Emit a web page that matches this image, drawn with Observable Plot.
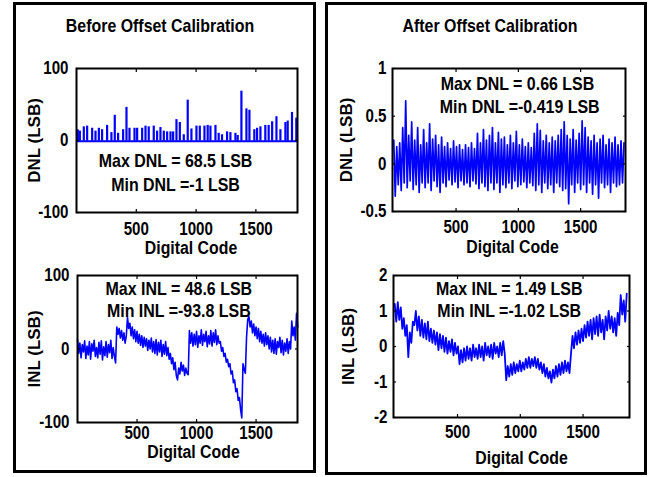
<!DOCTYPE html>
<html><head><meta charset="utf-8">
<script src="https://cdn.jsdelivr.net/npm/d3@7"></script>
<script src="https://cdn.jsdelivr.net/npm/@observablehq/plot@0.6"></script>
<style>
html,body{margin:0;padding:0;background:#fff;}
#page{position:relative;width:657px;height:477px;overflow:hidden;background:#fff;font-family:"Liberation Sans",Arial,Helvetica,sans-serif;font-weight:bold;color:#000;}
.layer{position:absolute;left:0;top:0;}
.layer svg{overflow:visible;display:block;}
.box{position:absolute;box-sizing:border-box;border:3px solid #000;z-index:5;pointer-events:none;}
.title{position:absolute;font-size:18.5px;line-height:1;white-space:nowrap;transform:translateX(-50%) scaleX(0.86);z-index:6;}
</style></head>
<body><div id="page"></div>
<script>
// ---------------- data ----------------
const xTicks = [500, 1000, 1500];

// Before offset calibration: DNL spikes (code, LSB); other codes sit at the floor value
const dnlBeforeCodes = [11,28,61,89,131,159,187,214,256,292,320,348,390,418,443,485,507,549,577,604,646,674,702,730,758,786,808,836,864,897,930,961,1003,1031,1070,1097,1120,1162,1189,1217,1259,1287,1329,1348,1379,1421,1446,1487,1510,1538,1579,1607,1636,1672,1705,1747,1766,1802,1838];
const dnlBeforeValues = [14.7,13,19,20,17,13,17,15,21,11,35,10,15,46,17,17,17,17,20,19,20,13,18,13,12,12,12,29,25,8,56,16,20,20,20,21,20,21,10,8,12,11,10,7,68.5,44,42,15,17,19,21,21,26,33,15,25,27,39,31];
const dnlBeforeFloor = -1;

// Before offset calibration: INL, one reading every 10 codes
const inlBeforeStep = 10;
const inlBefore = [
  13,-6,8,-12,6,-4,11,-13,4,-8,
  10,-14,7,-3,12,-10,2,-12,9,-7,
  11,-15,3,-9,10,-11,6,-5,12,-13,
  2,-10,-19,30,20,28,15,25,12,22,
  8,18,43,28,35,18,30,14,26,10,
  24,8,20,5,18,2,16,4,14,-2,
  12,0,15,-4,10,-6,13,-8,9,-4,
  12,-10,6,-7,10,-9,2,-14,-6,-20,
  -12,-28,-18,-36,-42,-26,-34,-18,-30,-22,
  -36,-26,-33,-35,25,8,22,4,20,6,
  24,2,18,8,26,5,20,10,24,3,
  18,7,25,4,22,9,26,6,18,8,
  10,-3,2,-10,-6,-18,-14,-24,-20,-34,
  -30,-46,-42,-58,-54,-70,-66,-82,-93.8,-20,
  -28,-33,16,40,44,30,38,22,34,18,
  30,14,28,10,24,8,20,4,22,6,
  18,0,16,-4,12,-6,14,-7,10,2,
  16,-5,12,-8,8,-3,14,-6,10,0,
  38,18,30,12,48.6,30
];

// After offset calibration: DNL, one reading every 12 codes
const dnlAfterStep = 12;
const dnlAfter = [
  0.25,-0.34,0.18,-0.22,0.22,-0.28,0.38,-0.2,0.66,-0.25,
  0.3,-0.18,0.44,-0.27,0.25,-0.22,0.38,-0.3,0.2,-0.2,
  0.36,-0.25,0.22,-0.2,0.42,-0.28,0.26,-0.18,0.3,-0.24,
  0.2,-0.3,0.28,-0.2,0.18,-0.24,0.22,-0.17,0.16,-0.22,
  0.24,-0.19,0.18,-0.25,0.2,-0.18,0.15,-0.22,0.2,-0.2,
  0.17,-0.24,0.22,-0.18,0.16,-0.21,0.32,-0.26,0.22,-0.2,
  0.36,-0.24,0.25,-0.28,0.3,-0.2,0.38,-0.27,0.22,-0.2,
  0.33,-0.3,0.26,-0.22,0.28,-0.25,0.2,-0.2,0.3,-0.26,
  0.22,-0.18,0.34,-0.24,0.2,-0.22,0.26,-0.19,0.18,-0.25,
  0.22,-0.2,0.17,-0.23,0.32,-0.28,0.42,-0.22,0.35,-0.3,
  0.24,-0.2,0.3,-0.26,0.22,-0.22,0.28,-0.3,0.24,-0.2,
  0.3,-0.24,0.36,-0.28,0.44,-0.26,0.3,-0.419,0.26,-0.22,
  0.36,-0.3,0.25,-0.2,0.32,-0.27,0.45,-0.22,0.38,-0.3,
  0.28,-0.2,0.24,-0.32,0.3,-0.22,0.22,-0.36,0.26,-0.2,
  0.3,-0.25,0.2,-0.22,0.26,-0.3,0.22,-0.2,0.28,-0.24,
  0.2,-0.22,0.24,-0.2,0.22
];

// After offset calibration: INL, one reading every 12 codes
const inlAfterStep = 12;
const inlAfter = [
  1.2,0.7,1.25,0.75,1.1,0.5,0.8,0.3,0.6,-0.3,
  0.4,0.1,0.7,0.6,1.0,0.45,0.85,0.3,0.75,0.25,
  0.65,0.2,0.7,0.15,0.5,0.1,0.45,0.05,0.4,-0.1,
  0.35,-0.05,0.3,-0.15,0.25,-0.2,0.15,-0.15,0.2,-0.25,
  0.1,-0.2,0.0,-0.5,-0.1,-0.45,-0.05,-0.4,0.0,-0.35,
  -0.05,-0.4,0.05,-0.3,-0.05,-0.35,0.05,-0.3,0.0,-0.4,
  0.1,-0.25,0.0,-0.3,0.05,-0.35,0.1,-0.2,0.0,-0.3,
  0.1,-0.25,0.15,-0.2,-0.95,-0.55,-0.85,-0.5,-0.8,-0.45,
  -0.75,-0.5,-0.7,-0.4,-0.7,-0.45,-0.65,-0.35,-0.6,-0.3,
  -0.6,-0.35,-0.55,-0.3,-0.6,-0.35,-0.65,-0.45,-0.75,-0.5,
  -0.85,-0.6,-0.9,-0.7,-1.02,-0.65,-0.9,-0.55,-0.85,-0.5,
  -0.8,-0.45,-0.75,-0.4,-0.7,-0.45,-0.75,-0.2,0.3,-0.05,
  0.4,0.05,0.45,0.1,0.5,0.15,0.6,0.25,0.7,0.3,
  0.75,0.2,0.8,0.35,0.85,0.3,0.9,0.4,0.75,0.2,
  0.85,0.45,1.0,0.5,0.85,0.4,0.8,0.3,0.95,0.6,
  1.45,0.9,1.3,0.7,1.49
];

const yTicksDnlBefore = [-100, 0, 100];
const yTicksInlBefore = [-100, 0, 100];
const yTicksDnlAfter = [-0.5, 0, 0.5, 1];
const yTicksInlAfter = [-2, -1, 0, 1, 2];

const titles = ["Before Offset  Calibration", "After Offset  Calibration"];
const xLabel = "Digital Code";
const notesDnlBefore = ["Max DNL = 68.5 LSB", "Min DNL =-1 LSB"];
const notesInlBefore = ["Max INL = 48.6 LSB", "Min INL =-93.8 LSB"];
const notesDnlAfter = ["Max DNL = 0.66 LSB", "Min DNL =-0.419 LSB"];
const notesInlAfter = ["Max INL = 1.49 LSB", "Min INL =-1.02 LSB"];

// ---------------- layout / style ----------------
const W = 657, H = 477;
const BLUE = "#0000ff";
const FONT = '"Liberation Sans", Arial, Helvetica, sans-serif';
const CONDENSE = {tick: 0.84, annot: 0.84, xlab: 0.88};

const panels = [
  {frame: {l: 76, r: 297, t: 68, b: 212}, xDomain: [0, 1848], yDomain: [-100, 100], yTicks: yTicksDnlBefore,
   yLabel: "DNL (LSB)", yLabelDx: -41.5, xLabelDx: 4, xLabelDy: 36, xPad: 10, yPad: 8,
   notes: notesDnlBefore, noteX: [828, 828], noteY: [-29, -61],
   marks: () => [
     Plot.ruleY([dnlBeforeFloor], {stroke: BLUE, strokeWidth: 2}),
     Plot.ruleX(dnlBeforeCodes, {x: d => d, y1: dnlBeforeFloor, y2: (d, i) => dnlBeforeValues[i], stroke: BLUE, strokeWidth: 2.2})
   ]},
  {frame: {l: 77, r: 297, t: 275, b: 422}, xDomain: [0, 1848], yDomain: [-100, 100], yTicks: yTicksInlBefore,
   yLabel: "INL (LSB)", yLabelDx: -43, xLabelDx: 6, xLabelDy: 30, xPad: 4, yPad: 8,
   notes: notesInlBefore, noteX: [851, 851], noteY: [82, 51.3],
   marks: () => [
     Plot.line(inlBefore, {x: (d, i) => i * inlBeforeStep, y: d => d, stroke: BLUE, strokeWidth: 1.6})
   ]},
  {frame: {l: 392, r: 625, t: 68, b: 211}, xDomain: [-10, 1860], yDomain: [-0.5, 1], yTicks: yTicksDnlAfter,
   yLabel: "DNL (LSB)", yLabelDx: -46, xLabelDx: 3.5, xLabelDy: 35.5, xPad: 9, yPad: 6,
   notes: notesDnlAfter, noteX: [993, 1011], noteY: [0.835, 0.598],
   marks: () => [
     Plot.line(dnlAfter, {x: (d, i) => i * dnlAfterStep, y: d => d, stroke: BLUE, strokeWidth: 1.7})
   ]},
  {frame: {l: 393, r: 629, t: 275, b: 417}, xDomain: [-10, 1870], yDomain: [-2, 2], yTicks: yTicksInlAfter,
   yLabel: "INL (LSB)", yLabelDx: -45, xLabelDx: 10, xLabelDy: 41, xPad: 8, yPad: 6,
   notes: notesInlAfter, noteX: [912, 912], noteY: [1.625, 1.005],
   marks: () => [
     Plot.line(inlAfter, {x: (d, i) => i * inlAfterStep, y: d => d, stroke: BLUE, strokeWidth: 1.8})
   ]}
];

const fmt = d => String(d);

function makePanel(p) {
  const f = p.frame;
  const noteData = p.notes.map((t, i) => ({t, x: p.noteX[i], y: p.noteY[i]}));
  return Plot.plot({
    width: W, height: H,
    marginLeft: f.l, marginRight: W - f.r, marginTop: f.t, marginBottom: H - f.b,
    style: {background: "transparent", fontFamily: FONT, fontWeight: "bold", fontSize: "18px", overflow: "visible", color: "black"},
    x: {domain: p.xDomain},
    y: {domain: p.yDomain},
    marks: [
      ...p.marks(),
      Plot.axisX(xTicks, {anchor: "bottom", tickSize: -3, fill: "none", label: null, strokeWidth: 1.2}),
      Plot.axisX(xTicks, {anchor: "top", tickSize: -3, fill: "none", label: null, strokeWidth: 1.2}),
      Plot.axisY(p.yTicks, {anchor: "left", tickSize: -3, fill: "none", label: null, strokeWidth: 1.2}),
      Plot.axisY(p.yTicks, {anchor: "right", tickSize: -3, fill: "none", label: null, strokeWidth: 1.2}),
      Plot.axisX(xTicks, {anchor: "bottom", tickSize: 0, tickPadding: p.xPad, label: null, tickFormat: fmt, className: "tick"}),
      Plot.axisY(p.yTicks, {anchor: "left", tickSize: 0, tickPadding: p.yPad, label: null, tickFormat: fmt, className: "tick"}),
      Plot.frame({stroke: "black", strokeWidth: 2}),
      Plot.text([p.yLabel], {text: d => d, frameAnchor: "left", textAnchor: "middle", lineAnchor: "middle", rotate: -90, dx: p.yLabelDx, fontSize: 17, fill: "black"}),
      Plot.text([xLabel], {text: d => d, frameAnchor: "bottom", textAnchor: "middle", lineAnchor: "middle", dx: p.xLabelDx, dy: p.xLabelDy, fontSize: 18, fill: "black", className: "xlab"}),
      Plot.text(noteData, {x: "x", y: "y", text: "t", fontSize: 19, fill: "black", className: "annot"})
    ]
  });
}

const page = document.getElementById("page");

// boxes
[{l: 13, t: 2, w: 303, h: 471}, {l: 325, t: 2, w: 322, h: 473}].forEach(b => {
  const d = document.createElement("div");
  d.className = "box";
  Object.assign(d.style, {left: b.l + "px", top: b.t + "px", width: b.w + "px", height: b.h + "px"});
  page.appendChild(d);
});

// titles
[{x: 159.5, text: titles[0]}, {x: 490.3, text: titles[1]}].forEach(t => {
  const d = document.createElement("div");
  d.className = "title";
  d.textContent = t.text;
  Object.assign(d.style, {left: t.x + "px", top: "17px"});
  page.appendChild(d);
});

panels.forEach(p => {
  const holder = document.createElement("div");
  holder.className = "layer";
  holder.appendChild(makePanel(p));
  page.appendChild(holder);
  // condense horizontal texts to match the narrow lettering of the figure
  Object.entries(CONDENSE).forEach(([cls, k]) => {
    holder.querySelectorAll(`g.${cls} text`).forEach(t => {
      const w = t.getComputedTextLength();
      t.setAttribute("textLength", (w * k).toFixed(2));
      t.setAttribute("lengthAdjust", "spacingAndGlyphs");
    });
  });
});
</script>
</body></html>
